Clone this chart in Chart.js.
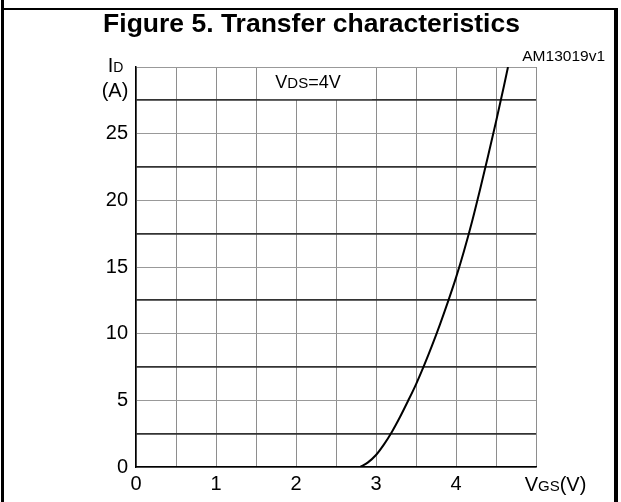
<!DOCTYPE html>
<html>
<head>
<meta charset="utf-8">
<title>Transfer characteristics</title>
<script src="https://cdn.jsdelivr.net/npm/chart.js@4.4.1/dist/chart.umd.min.js"></script>
<style>
  html, body { margin: 0; padding: 0; background: #fff; }
  #wrap { width: 621px; height: 502px; }
</style>
</head>
<body>
<div id="wrap"><canvas id="c" width="621" height="502"></canvas></div>
<script>
// Gate voltage (V) and drain current (A) along the transfer curve, VDS = 4 V
const vgs = [2.8, 2.9, 3.0, 3.1, 3.2, 3.3, 3.4, 3.5, 3.6, 3.7, 3.8, 3.9, 4.0, 4.1, 4.2, 4.3, 4.4, 4.5, 4.6, 4.65];
const idA = [0, 0.35, 0.9, 1.7, 2.65, 3.75, 4.95, 6.2, 7.6, 9.1, 10.7, 12.4, 14.2, 16.2, 18.4, 20.8, 23.3, 25.9, 28.6, 30];

// Labelled ticks on each axis
const xTickValues = [0, 1, 2, 3, 4];
const yTickValues = [0, 5, 10, 15, 20, 25];

const FONT = '"Liberation Sans", Arial, Helvetica, sans-serif';

// Draw a row of text runs (mixed sizes share one baseline)
function drawRuns(ctx, runs, x, y, align) {
  ctx.save();
  ctx.textBaseline = 'alphabetic';
  ctx.textAlign = 'left';
  let total = 0;
  const widths = runs.map(r => {
    ctx.font = (r.bold ? 'bold ' : '') + r.size + 'px ' + FONT;
    const w = ctx.measureText(r.t).width;
    total += w;
    return w;
  });
  let cx = align === 'center' ? x - total / 2 : align === 'right' ? x - total : x;
  runs.forEach((r, i) => {
    ctx.font = (r.bold ? 'bold ' : '') + r.size + 'px ' + FONT;
    ctx.fillStyle = '#000';
    ctx.fillText(r.t, cx, y);
    cx += widths[i];
  });
  ctx.restore();
}

const figureDecor = {
  id: 'figureDecor',
  beforeDraw(chart) {
    const ctx = chart.ctx;
    ctx.save();
    ctx.fillStyle = '#fff';
    ctx.fillRect(0, 0, chart.width, chart.height);
    ctx.restore();
  },
  afterDraw(chart) {
    const ctx = chart.ctx;
    const x = chart.scales.x, y = chart.scales.y;
    ctx.save();

    // white box behind the test-condition note
    ctx.fillStyle = '#fff';
    ctx.fillRect(x.getPixelForValue(1.55), y.getPixelForValue(30) + 1,
                 x.getPixelForValue(2.95) - x.getPixelForValue(1.55),
                 y.getPixelForValue(27.5) - y.getPixelForValue(30) - 2.2);

    // frame
    ctx.fillStyle = '#000';
    ctx.fillRect(1, 0, 3, 502);
    ctx.fillRect(4, 8, 614, 2);
    ctx.fillRect(614, 8, 4, 494);
    ctx.restore();

    // title and texts
    drawRuns(ctx, [{ t: 'Figure 5. Transfer characteristics', size: 26.5, bold: true }], 311.5, 31.5, 'center');
    drawRuns(ctx, [{ t: 'AM13019v1', size: 15.5 }], 605, 60.5, 'right');
    drawRuns(ctx, [{ t: 'I', size: 20 }, { t: 'D', size: 14 }], 115.5, 72, 'center');
    drawRuns(ctx, [{ t: '(A)', size: 20 }], 115, 96.5, 'center');
    drawRuns(ctx, [{ t: 'V', size: 18 }, { t: 'DS', size: 15 }, { t: '=4V', size: 18 }], 308, 88.3, 'center');
    drawRuns(ctx, [{ t: 'V', size: 20 }, { t: 'GS', size: 15 }, { t: '(V)', size: 20 }], 555.5, 491, 'center');
  }
};

new Chart(document.getElementById('c'), {
  type: 'scatter',
  data: {
    datasets: [{
      data: vgs.map((v, i) => ({ x: v, y: idA[i] })),
      showLine: true,
      borderColor: '#000',
      borderWidth: 2,
      pointRadius: 0,
      fill: false,
      cubicInterpolationMode: 'monotone'
    }]
  },
  options: {
    responsive: false,
    animation: false,
    devicePixelRatio: 1,
    layout: { padding: { left: 0, right: 85, top: 67, bottom: 0 } },
    plugins: {
      legend: { display: false },
      tooltip: { enabled: false },
      title: { display: false }
    },
    scales: {
      x: {
        type: 'linear',
        min: 0,
        max: 5,
        afterFit: s => { s.height = 35; },
        ticks: {
          stepSize: 0.5,
          autoSkip: false,
          maxRotation: 0,
          padding: 5,
          color: '#000',
          font: { size: 20, family: FONT },
          callback: v => (xTickValues.includes(v) ? String(v) : '')
        },
        grid: { color: '#8e8e8e', lineWidth: 1, drawTicks: false },
        border: { color: '#000', width: 1.5 }
      },
      y: {
        type: 'linear',
        min: 0,
        max: 30,
        afterFit: s => { s.width = 136; },
        ticks: {
          stepSize: 2.5,
          autoSkip: false,
          padding: 8,
          color: '#000',
          font: { size: 20, family: FONT },
          callback: v => (yTickValues.includes(v) ? String(v) : '')
        },
        grid: {
          drawTicks: false,
          color: c => (c.tick && c.tick.value % 5 !== 0 ? '#333' : '#999'),
          lineWidth: c => (c.tick && c.tick.value % 5 !== 0 ? 1.8 : 1)
        },
        border: { color: '#000', width: 1.5 }
      }
    }
  },
  plugins: [figureDecor]
});
</script>
</body>
</html>
